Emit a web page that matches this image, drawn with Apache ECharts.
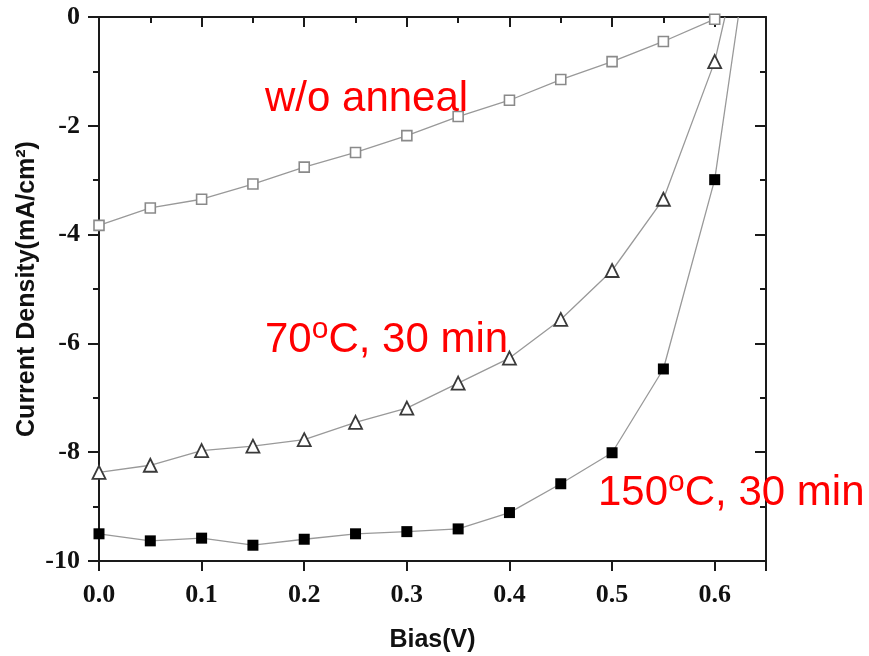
<!DOCTYPE html>
<html lang="en">
<head>
    <meta charset="UTF-8">
    <title>J-V curves</title>
    <script type="text/javascript" src="https://cdn.jsdelivr.net/npm/echarts@6/dist/echarts.min.js"></script>
    <style>
        html, body {
            margin: 0;
            padding: 0;
            background: #fff;
        }

        #container {
            width: 869px;
            height: 656px;
        }
    </style>
</head>
<body>
<div id="container"></div>
</body>
<script>
    // bias points (V)
    const bias = [0, 0.05, 0.1, 0.15, 0.2, 0.25, 0.3, 0.35, 0.4, 0.45, 0.5, 0.55, 0.6];
    // current density, mA/cm2
    const woAnneal = [-3.83, -3.51, -3.35, -3.07, -2.76, -2.49, -2.18, -1.83, -1.53, -1.15, -0.82, -0.45, -0.04];
    const anneal70 = [-8.37, -8.24, -7.97, -7.89, -7.77, -7.45, -7.19, -6.73, -6.27, -5.56, -4.66, -3.35, -0.82];
    const anneal150 = [-9.50, -9.63, -9.58, -9.71, -9.60, -9.50, -9.46, -9.41, -9.11, -8.58, -8.01, -6.47, -2.99];
    // where the two steep curves leave the top of the frame
    const anneal70End = [0.61, 0];
    const anneal150End = [0.623, 0];

    const xTicks = ['0.0', '0.1', '0.2', '0.3', '0.4', '0.5', '0.6'];
    const labels = ['w/o anneal', '70', 'C, 30 min', '150'];

    const container = document.getElementById('container');
    const myChart = echarts.init(container);

    const frame = {lineStyle: {color: '#1a1a1a', width: 2}};
    const serifFont = {fontFamily: '"Liberation Serif", "Times New Roman", serif', fontWeight: 'bold', fontSize: 26, color: '#111'};
    const nameFont = {fontFamily: '"Liberation Sans", Arial, sans-serif', fontWeight: 'bold', fontSize: 25, color: '#111'};

    function pairs(ys, end) {
        const d = bias.map((x, i) => [x, ys[i]]);
        if (end) d.push({value: end, symbol: 'none'});
        return d;
    }

    function xAx(pos, step, len, inside, main) {
        return {
            type: 'value', position: pos, min: 0, max: 0.65, interval: step,
            axisLine: main ? Object.assign({show: true, onZero: false}, frame) : {show: false},
            axisTick: {show: true, inside: inside, length: len, lineStyle: {color: '#1a1a1a', width: 2}},
            axisLabel: (main && pos === 'bottom') ? Object.assign({
                margin: 21,
                formatter: v => {
                    const k = Math.round(v * 10);
                    return Math.abs(v * 10 - k) < 1e-6 ? xTicks[k] : '';
                }
            }, serifFont) : {show: false},
            splitLine: {show: false},
            name: (main && pos === 'bottom') ? 'Bias(V)' : '',
            nameLocation: 'middle',
            nameGap: 67,
            nameMoveOverlap: false,
            nameTextStyle: nameFont
        };
    }

    function yAx(pos, inside) {
        return {
            type: 'value', position: pos, min: -10, max: 0, interval: 2,
            axisLine: Object.assign({show: true, onZero: false}, frame),
            axisTick: {show: true, inside: inside, length: 11, lineStyle: {color: '#1a1a1a', width: 2}},
            minorTick: {show: true, splitNumber: 2, length: 6, lineStyle: {color: '#1a1a1a', width: 2}},
            axisLabel: pos === 'left' ? Object.assign({margin: 19}, serifFont) : {show: false},
            splitLine: {show: false},
            name: pos === 'left' ? 'Current Density(mA/cm\u00b2)' : '',
            nameLocation: 'middle',
            nameRotate: 90,
            nameGap: 59,
            nameMoveOverlap: false,
            nameTextStyle: nameFont
        };
    }

    const redText = {fontFamily: '"Liberation Sans", Arial, sans-serif', fontSize: 42, fill: '#ff0000', verticalAlign: 'bottom'};
    const supText = {fontFamily: '"Liberation Sans", Arial, sans-serif', fontSize: 30, fill: '#ff0000', verticalAlign: 'bottom', padding: [0, 0, 16, 0]};

    function note(x, y, text) {
        return {
            type: 'text', x: x, y: y, z: 100,
            style: {
                text: text,
                fill: '#ff0000',
                verticalAlign: 'bottom',
                rich: {a: redText, s: supText}
            }
        };
    }

    let option = {
        animation: false,
        backgroundColor: '#fff',
        grid: {left: 99, top: 17, right: 103, bottom: 95, containLabel: false, outerBoundsMode: 'none'},
        xAxis: [
            xAx('bottom', 0.1, 10, false, true),
            xAx('bottom', 0.05, 6, false, false),
            xAx('top', 0.1, 10, true, true),
            xAx('top', 0.05, 6, true, false)
        ],
        yAxis: [
            yAx('left', false),
            yAx('right', true)
        ],
        series: [
            {
                type: 'line', name: 'w/o anneal', data: pairs(woAnneal),
                symbol: 'rect', symbolSize: 10, showAllSymbol: true,
                lineStyle: {color: '#999', width: 1.3},
                itemStyle: {color: '#fff', borderColor: '#8a8a8a', borderWidth: 1.6}
            },
            {
                type: 'line', name: '70C', data: pairs(anneal70, anneal70End),
                symbol: 'triangle', symbolSize: 13, showAllSymbol: true,
                lineStyle: {color: '#999', width: 1.3},
                itemStyle: {color: '#fff', borderColor: '#3a3a3a', borderWidth: 1.8}
            },
            {
                type: 'line', name: '150C', data: pairs(anneal150, anneal150End),
                symbol: 'rect', symbolSize: 11, showAllSymbol: true,
                lineStyle: {color: '#999', width: 1.3},
                itemStyle: {color: '#000', borderColor: '#000', borderWidth: 0}
            }
        ],
        graphic: [
            note(265, 120, '{a|' + labels[0] + '}'),
            note(265, 361, '{a|' + labels[1] + '}{s|o}{a|' + labels[2] + '}'),
            note(598, 514, '{a|' + labels[3] + '}{s|o}{a|' + labels[2] + '}')
        ]
    };
    myChart.setOption(option);

    window.onresize = myChart.resize;
</script>
</html>
